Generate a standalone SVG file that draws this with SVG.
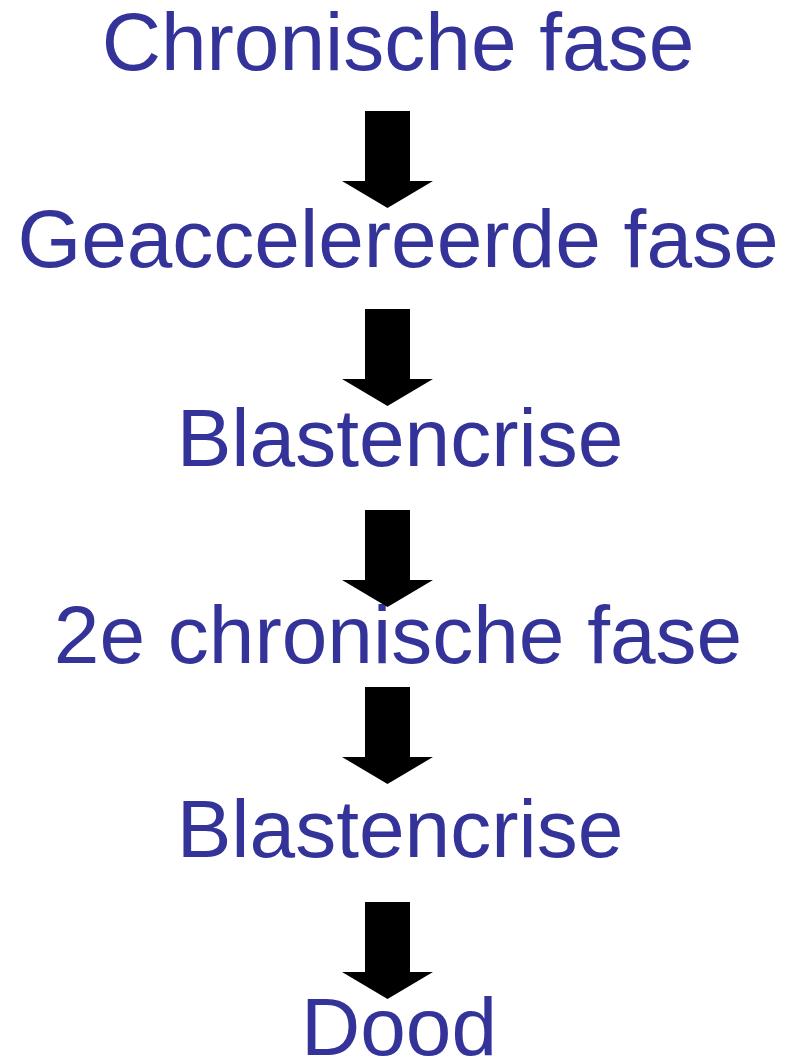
<svg xmlns="http://www.w3.org/2000/svg" width="788" height="1060" viewBox="0 0 788 1060">
<style>
.t{font-family:"Liberation Sans",Arial,sans-serif;font-size:82px;fill:#333399;text-anchor:middle}
.a{fill:#000}
</style>
<defs>
<path id="arr" d="M-22.5,0 H22.5 V70 H45.5 L0,97 L-45.5,70 H-22.5 Z"/>
</defs>
<rect width="788" height="1060" fill="#fff"/>
<g id="n1"><text class="t" x="398" y="70">Chronische fase</text></g>
<g id="n2"><text class="t" x="398" y="267">Geaccelereerde fase</text></g>
<g id="n3"><text class="t" x="400" y="466">Blastencrise</text></g>
<g id="n4"><text class="t" x="398" y="663">2e chronische fase</text></g>
<g id="n5"><text class="t" x="400" y="857">Blastencrise</text></g>
<g id="n6"><text class="t" x="399" y="1055">Dood</text></g>
<g id="connectors" class="a">
<use href="#arr" x="387.5" y="111"/>
<use href="#arr" x="387.5" y="309"/>
<use href="#arr" x="387.5" y="510"/>
<use href="#arr" x="387.5" y="687"/>
<use href="#arr" x="387.5" y="902"/>
</g>
</svg>
